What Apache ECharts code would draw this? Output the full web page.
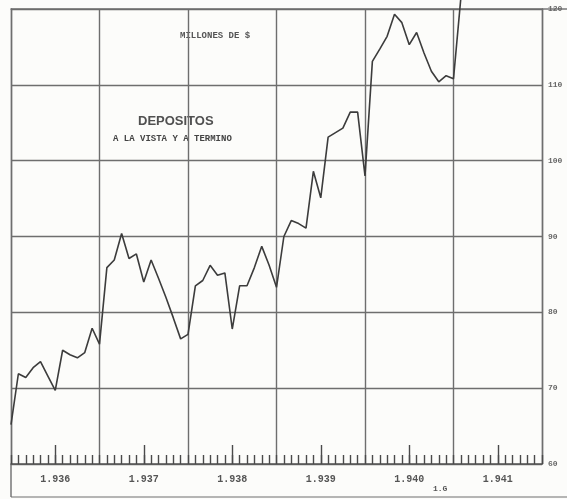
<!DOCTYPE html>
<html><head><meta charset="utf-8">
<script src="https://cdn.jsdelivr.net/npm/echarts@6/dist/echarts.min.js"></script>
<style>html,body{margin:0;padding:0;background:#fcfcfa;} #c{width:567px;height:499px;}</style>
</head><body><div id="c"></div>
<script>
const years = ['1.936', '1.937', '1.938', '1.939', '1.940', '1.941'];
const monthsPerYear = 12;
// Monthly deposits (millones de $), Jan 1936 onward
const deposits = [
  65.2, 71.9, 71.4, 72.7, 73.5, 71.6, 69.7, 75.0, 74.4, 74.0, 74.7, 77.9,
  75.8, 85.9, 86.9, 90.4, 87.1, 87.7, 84.0, 86.9, 84.5, 82.0, 79.3, 76.5,
  77.1, 83.5, 84.2, 86.2, 84.9, 85.2, 77.8, 83.5, 83.5, 85.9, 88.7, 86.2,
  83.3, 90.0, 92.1, 91.7, 91.1, 98.6, 95.1, 103.1, 103.7, 104.3, 106.4, 106.4,
  98.0, 113.1, 114.7, 116.4, 119.3, 118.2, 115.3, 116.9, 114.2, 111.8, 110.4, 111.2,
  110.8, 121.5
];
const yMin = 60, yMax = 120, yStep = 10;
const titleMain = 'DEPOSITOS';
const titleSub = 'A LA VISTA Y A TERMINO';
const unitLabel = 'MILLONES DE $';
const figLabel = '1.G';

const totalMonths = years.length * monthsPerYear;
const gridCol = '#6e6e6e';
const ink = '#3c3c3c';
const mono = '"Liberation Mono", "DejaVu Sans Mono", monospace';

const chart = echarts.init(document.getElementById('c'));
chart.setOption({
  animation: false,
  backgroundColor: '#fcfcfa',
  grid: { left: 11, right: 25, top: 9, bottom: 35 },
  xAxis: [
    { type: 'value', position: 'bottom', min: 0, max: totalMonths, interval: 1,
      axisLine: { show: true, onZero: false, lineStyle: { color: '#555', width: 1.5 } },
      axisTick: { show: true, inside: true, length: 9, lineStyle: { color: '#4a4a4a', width: 1.4 } },
      axisLabel: { show: false }, splitLine: { show: false } },
    { type: 'category', position: 'bottom', data: years, boundaryGap: true,
      axisLine: { show: false },
      axisTick: { show: true, inside: true, alignWithLabel: true, length: 19, lineStyle: { color: '#4a4a4a', width: 1.4 } },
      axisLabel: { show: true, margin: 10, color: '#555', fontFamily: mono, fontSize: 10, fontWeight: 'bold' },
      splitLine: { show: false } },
    { type: 'value', position: 'top', min: 0, max: totalMonths, interval: monthsPerYear,
      axisLine: { show: true, onZero: false, lineStyle: { color: gridCol, width: 1.5 } },
      axisTick: { show: false }, axisLabel: { show: false },
      splitLine: { show: true, lineStyle: { color: gridCol, width: 1.4 } } }
  ],
  yAxis: [
    { type: 'value', position: 'right', min: yMin, max: yMax, interval: yStep,
      axisLine: { show: true, onZero: false, lineStyle: { color: gridCol, width: 1.4 } },
      axisTick: { show: false },
      axisLabel: { show: true, margin: 6, color: '#666', fontFamily: mono, fontSize: 8, fontWeight: 'bold' },
      splitLine: { show: true, lineStyle: { color: gridCol, width: 1.4 } } },
    { type: 'value', position: 'left', min: yMin, max: yMax, interval: yStep,
      axisLine: { show: true, onZero: false, lineStyle: { color: gridCol, width: 1.4 } },
      axisTick: { show: false }, axisLabel: { show: false }, splitLine: { show: false } }
  ],
  series: [{
    type: 'line', xAxisIndex: 0, yAxisIndex: 0,
    data: deposits.map((v, i) => [i, v]),
    symbol: 'none', clip: false,
    lineStyle: { color: ink, width: 1.6 }
  }],
  graphic: [
    { type: 'line', shape: { x1: 11, y1: 464, x2: 11, y2: 497 }, style: { stroke: gridCol, lineWidth: 1.4 } },
    { type: 'line', shape: { x1: 11, y1: 497, x2: 567, y2: 497 }, style: { stroke: gridCol, lineWidth: 1.2 } },
    { type: 'line', shape: { x1: 542, y1: 9, x2: 567, y2: 9 }, style: { stroke: gridCol, lineWidth: 1.4 } },
    { type: 'text', left: 180, top: 31, style: { text: unitLabel, font: 'bold 9px ' + mono, fill: '#555' } },
    { type: 'text', left: 138, top: 115, style: { text: titleMain, font: 'bold 13px "Liberation Sans", Arial, sans-serif', fill: '#505050' } },
    { type: 'text', left: 113, top: 134, style: { text: titleSub, font: 'bold 9px ' + mono, fill: '#444' } },
    { type: 'text', left: 433, top: 485, style: { text: figLabel, font: 'bold 8px ' + mono, fill: '#555' } }
  ]
});
</script></body></html>
